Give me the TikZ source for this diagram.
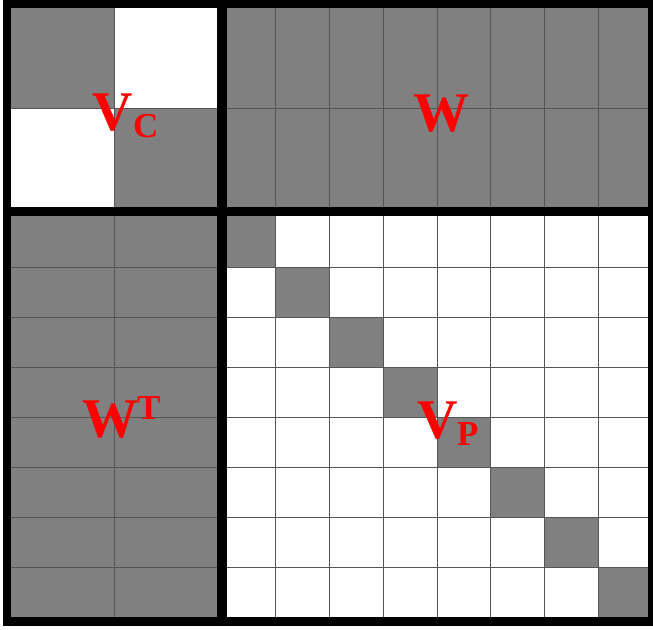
\documentclass[tikz,border=0pt]{standalone}
\usepackage{fontspec}
\setmainfont{Liberation Serif}
\definecolor{cgray}{HTML}{808080}
\definecolor{lgray}{HTML}{555555}
\begin{document}
\begin{tikzpicture}[x=1pt,y=-1pt,
  gridline/.style={draw=lgray,line width=1pt},
  heavy/.style={draw=black,line width=9pt},
  big/.style={text=red,font=\fontsize{56}{56}\selectfont\bfseries,inner sep=0pt,anchor=base west},
  small/.style={text=red,font=\fontsize{35}{35}\selectfont\bfseries,inner sep=0pt,anchor=base west}]
\useasboundingbox (0,0) rectangle (653,629);
\fill[white] (0,0) rectangle (653,629);
% top-left block (V_C)
\fill[cgray] (7,4) rectangle (114.5,108);
\fill[cgray] (114.5,108) rectangle (222,211.5);
\draw[gridline] (114.5,4) -- (114.5,211.5);
\draw[gridline] (7,108) -- (222,108);
% top-right block (W)
\fill[cgray] (222,4) rectangle (652,211.5);
\foreach \k in {1,...,7} \draw[gridline] ({222+53.75*\k},4) -- ({222+53.75*\k},211.5);
\draw[gridline] (222,108) -- (652,108);
% bottom-left block (W^T)
\fill[cgray] (7,211.5) rectangle (222,621.5);
\draw[gridline] (114.5,211.5) -- (114.5,621.5);
\foreach \k in {1,...,7} \draw[gridline] (7,{217+50*\k}) -- (222,{217+50*\k});
% bottom-right block (V_P)
\foreach \k in {0,...,7} {
  \pgfmathsetmacro{\ya}{\k==0 ? 211.5 : 217+50*\k}
  \pgfmathsetmacro{\yb}{\k==7 ? 621.5 : 267+50*\k}
  \fill[cgray] ({222+53.75*\k},\ya) rectangle ({222+53.75*(\k+1)},\yb);
}
\foreach \k in {1,...,7} {
  \draw[gridline] ({222+53.75*\k},211.5) -- ({222+53.75*\k},621.5);
  \draw[gridline] (222,{217+50*\k}) -- (652,{217+50*\k});
}
% thick borders
\draw[heavy,line width=8.5pt] (7,4) rectangle (652,621.5);
\draw[heavy,line width=10pt] (222,4) -- (222,621.5);
\draw[heavy] (7,211.5) -- (652,211.5);
% labels
\node[big] (vc) at (92,130) {V};
\node[small] (vcs) at (133,137) {C};
\node[big] (w) at (413,131) {W};
\node[big] (wt) at (82,437) {W};
\node[small] (wts) at (137,419) {T};
\node[big] (vp) at (417,438) {V};
\node[small] (vps) at (457,445) {P};
\end{tikzpicture}
\end{document}
